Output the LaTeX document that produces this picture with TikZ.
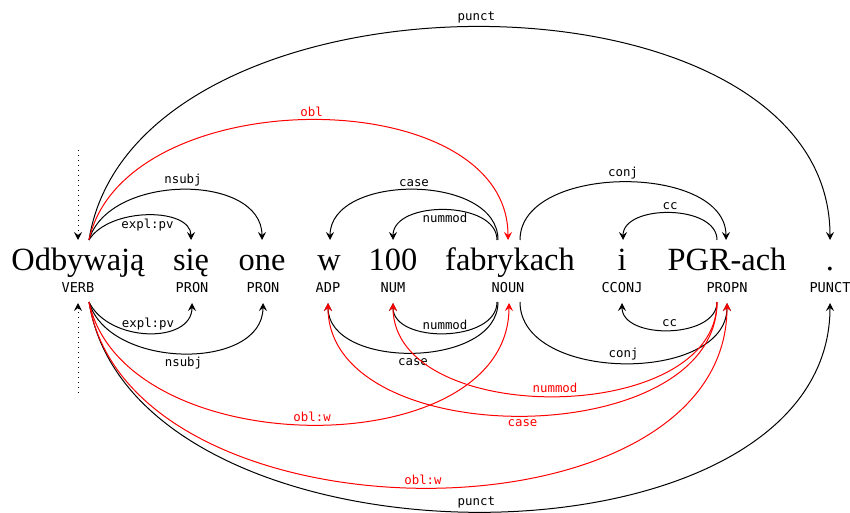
\documentclass[tikz,border=0pt]{standalone}
\usepackage{fontspec}
\setmainfont{Liberation Serif}
\newfontfamily\depmono{DejaVu Sans Mono}
\usetikzlibrary{calc, arrows.meta}

\begin{document}
\begin{tikzpicture}[
  x=0.5pt, y=-0.5pt,
  word/.style={font=\fontsize{16.2}{16}\selectfont, inner sep=0pt, anchor=base},
  tag/.style={font=\depmono\fontsize{6.8}{7}\selectfont, inner sep=0pt},
  lbl/.style={font=\depmono\fontsize{6.2}{6.5}\selectfont, inner sep=1.5pt},
  dep/.style={line width=0.5pt, -{Stealth[length=4pt, width=4pt, inset=1.5pt]}},
  enh/.style={dep, red}
]
\useasboundingbox (0,0) rectangle (850,513);
% words
\node[word] (odb) at (78,270)  {Odbywają};
\node[word] (sie) at (191,270) {się};
\node[word] (one) at (262,270) {one};
\node[word] (w)   at (329,270) {w};
\node[word] (sto) at (393,270) {100};
\node[word] (fab) at (510,270) {fabrykach};
\node[word] (i)   at (622,270) {i};
\node[word] (pgr) at (727,270) {PGR-ach};
\node[word] (dot) at (830,270) {.};
% tags
\node[tag] (verb)  at (78,288)  {VERB};
\node[tag] (pron1) at (192,288) {PRON};
\node[tag] (pron2) at (263,288) {PRON};
\node[tag] (adp)   at (328,288) {ADP};
\node[tag] (num)   at (393,288) {NUM};
\node[tag] (noun)  at (508,288) {NOUN};
\node[tag] (cconj) at (622,288) {CCONJ};
\node[tag] (propn) at (727,288) {PROPN};
\node[tag] (punct) at (830,288) {PUNCT};
% root markers
\coordinate (roottop) at (78,150);
\coordinate (rootbot) at (78,393);
\draw[dep, dotted] (roottop) -- ($(odb.base)+(0,-30)$);
\draw[dep, dotted] (rootbot) -- ($(verb)+(0,15)$);

% basic tree, above
\draw[dep] ($(odb.base)+(11,-30)$) .. controls +(20,-33) and +(0,-33) .. ($(sie.base)+(0,-30)$) node[lbl, pos=.5, below] {expl:pv};
\draw[dep] ($(odb.base)+(11,-30)$) .. controls +(20,-67) and +(0,-67) .. ($(one.base)+(0,-30)$) node[lbl, pos=.5, above] {nsubj};
\draw[dep] ($(odb.base)+(11,-30)$) .. controls +(45,-284) and +(0,-284) .. ($(dot.base)+(0,-30)$) node[lbl, pos=.5, above] {punct};
\draw[dep] ($(fab.base)+(-12,-30)$) .. controls +(0,-67) and +(0,-67) .. ($(w.base)+(1,-30)$) node[lbl, pos=.5, above] {case};
\draw[dep] ($(fab.base)+(-13,-30)$) .. controls +(0,-40) and +(0,-40) .. ($(sto.base)+(0,-30)$) node[lbl, pos=.5, below] {nummod};
\draw[dep] ($(fab.base)+(10,-30)$) .. controls +(0,-77) and +(0,-77) .. ($(pgr.base)+(-1,-30)$) node[lbl, pos=.5, above] {conj};
\draw[dep] ($(pgr.base)+(-10,-30)$) .. controls +(0,-36) and +(0,-36) .. ($(i.base)+(1,-30)$) node[lbl, pos=.5, above] {cc};
\draw[enh] ($(odb.base)+(11,-30)$) .. controls +(35,-160) and +(0,-160) .. ($(fab.base)+(-2,-30)$) node[lbl, pos=.5, above] {obl};

% enhanced graph, below
\draw[dep] ($(verb)+(11,14)$) .. controls +(20,41) and +(0,41) .. ($(pron1)+(0,15)$) node[lbl, pos=.5, above] {expl:pv};
\draw[dep] ($(verb)+(11,14)$) .. controls +(20,68) and +(0,68) .. ($(pron2)+(0,15)$) node[lbl, pos=.5, below] {nsubj};
\draw[dep] ($(verb)+(11,14)$) .. controls +(45,279) and +(0,279) .. ($(punct)+(0,15)$) node[lbl, pos=.5, above] {punct};
\draw[dep] ($(noun)+(-10,14)$) .. controls +(0,67) and +(0,67) .. ($(adp)+(0,15)$) node[lbl, pos=.5, below=1pt] {case};
\draw[dep] ($(noun)+(-11,14)$) .. controls +(0,41) and +(0,41) .. ($(num)+(0,15)$) node[lbl, pos=.5, above] {nummod};
\draw[dep] ($(noun)+(12,14)$) .. controls +(0,81) and +(0,81) .. ($(propn)+(0,15)$) node[lbl, pos=.5, above] {conj};
\draw[dep] ($(propn)+(-10,14)$) .. controls +(0,37) and +(0,37) .. ($(cconj)+(0,15)$) node[lbl, pos=.5, above] {cc};
\draw[enh] ($(verb)+(11,14)$) .. controls +(35,163) and +(0,163) .. ($(noun)+(1,15)$) node[lbl, pos=.5, above] {obl:w};
\draw[enh] ($(verb)+(11,14)$) .. controls +(40,247) and +(0,247) .. ($(propn)+(0,15)$) node[lbl, pos=.5, above] {obl:w};
\draw[enh] ($(propn)+(-10,14)$) .. controls +(0,125) and +(0,125) .. ($(num)+(0,15)$) node[lbl, pos=.5, above] {nummod};
\draw[enh] ($(propn)+(-10,14)$) .. controls +(0,151) and +(0,151) .. ($(adp)+(0,15)$) node[lbl, pos=.5, below] {case};
\end{tikzpicture}
\end{document}
